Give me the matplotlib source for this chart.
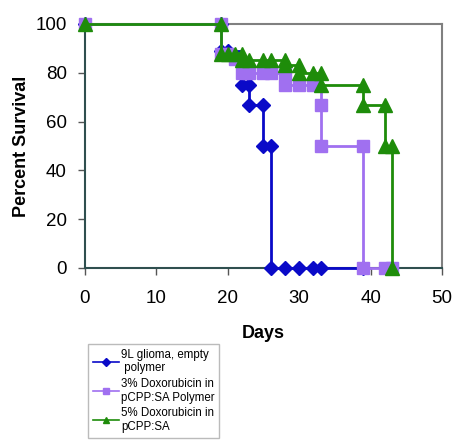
import matplotlib
matplotlib.use("Agg")
import matplotlib.pyplot as plt
from matplotlib.lines import Line2D

plt.rcParams['font.family'] = ['Liberation Sans', 'DejaVu Sans']

# Data (Kaplan-Meier style survival)
blue_days = [0, 19, 19, 20, 22, 23, 23, 25, 25, 26, 26, 28, 30, 32, 33, 39]
blue_surv = [100, 100, 88.9, 88.9, 75, 75, 66.7, 66.7, 50, 50, 0, 0, 0, 0, 0, 0]

purple_days = [0, 19, 19, 20, 21, 22, 23, 25, 26, 28, 28, 30, 32, 33, 33, 39, 39, 42, 43]
purple_surv = [100, 100, 87.5, 87.5, 85.7, 80, 80, 80, 80, 80, 75, 75, 75, 66.7, 50, 50, 0, 0, 0]

green_days = [0, 19, 19, 20, 21, 22, 22, 23, 25, 26, 28, 28, 30, 30, 32, 33, 33, 39, 39, 42, 42, 43, 43]
green_surv = [100, 100, 87.5, 87.5, 87.5, 87.5, 85.2, 85.2, 85.2, 85.2, 85.2, 83, 83, 80, 80, 80, 75, 75, 66.7, 66.7, 50, 50, 0]

labels = ["9L glioma, empty\n polymer", "3% Doxorubicin in\npCPP:SA Polymer", "5% Doxorubicin in\npCPP:SA"]
x_ticks = [0, 10, 20, 30, 40, 50]
y_ticks = [0, 20, 40, 60, 80, 100]

c_blue = '#0A0AC8'
c_purple = '#A070F0'
c_green = '#1E8C0A'

fig = plt.figure(figsize=(4.6, 4.47), dpi=100)
ax = fig.add_axes([85/460, 1-268/447, (442-85)/460, (268-24)/447])

ax.plot(blue_days, blue_surv, drawstyle='steps-post', color=c_blue, lw=2,
        marker='D', ms=7, mec=c_blue, mfc=c_blue, clip_on=False, zorder=3)
ax.plot(purple_days, purple_surv, drawstyle='steps-post', color=c_purple, lw=2,
        marker='s', ms=9, mec=c_purple, mfc=c_purple, clip_on=False, zorder=4)
ax.plot(green_days, green_surv, drawstyle='steps-post', color=c_green, lw=2,
        marker='^', ms=10, mec=c_green, mfc=c_green, clip_on=False, zorder=5)

ax.set_xlim(0, 50)
ax.set_ylim(0, 100)
ax.set_xticks(x_ticks)
ax.set_yticks(y_ticks)
ax.tick_params(axis='both', direction='out', length=5, width=1, color='#555555',
               labelsize=13.5)
ax.tick_params(axis='x', pad=11)
ax.tick_params(axis='y', pad=8)
for s in ['top', 'right']:
    ax.spines[s].set_color('#808080')
    ax.spines[s].set_linewidth(1.5)
for s in ['left', 'bottom']:
    ax.spines[s].set_color('#2F4F4F')
    ax.spines[s].set_linewidth(1.5)

ax.set_xlabel('Days', fontsize=13, fontweight='bold', labelpad=13)
ax.set_ylabel('Percent Survival', fontsize=13, fontweight='bold', labelpad=4)

handles = [
    Line2D([], [], color=c_blue, lw=1.2, marker='D', ms=4),
    Line2D([], [], color=c_purple, lw=1.2, marker='s', ms=4.5),
    Line2D([], [], color=c_green, lw=1.2, marker='^', ms=5),
]
leg = fig.legend(handles, labels, loc='upper left',
                 bbox_to_anchor=(88/460, 1-344/447), fontsize=8.3,
                 frameon=True, fancybox=False, handlelength=2.3,
                 handletextpad=0.15, borderpad=0.4, labelspacing=0.3,
                 borderaxespad=0)
leg.get_frame().set_edgecolor('#AAAAAA')
leg.get_frame().set_linewidth(1)

fig.savefig('out.png', dpi=100)
